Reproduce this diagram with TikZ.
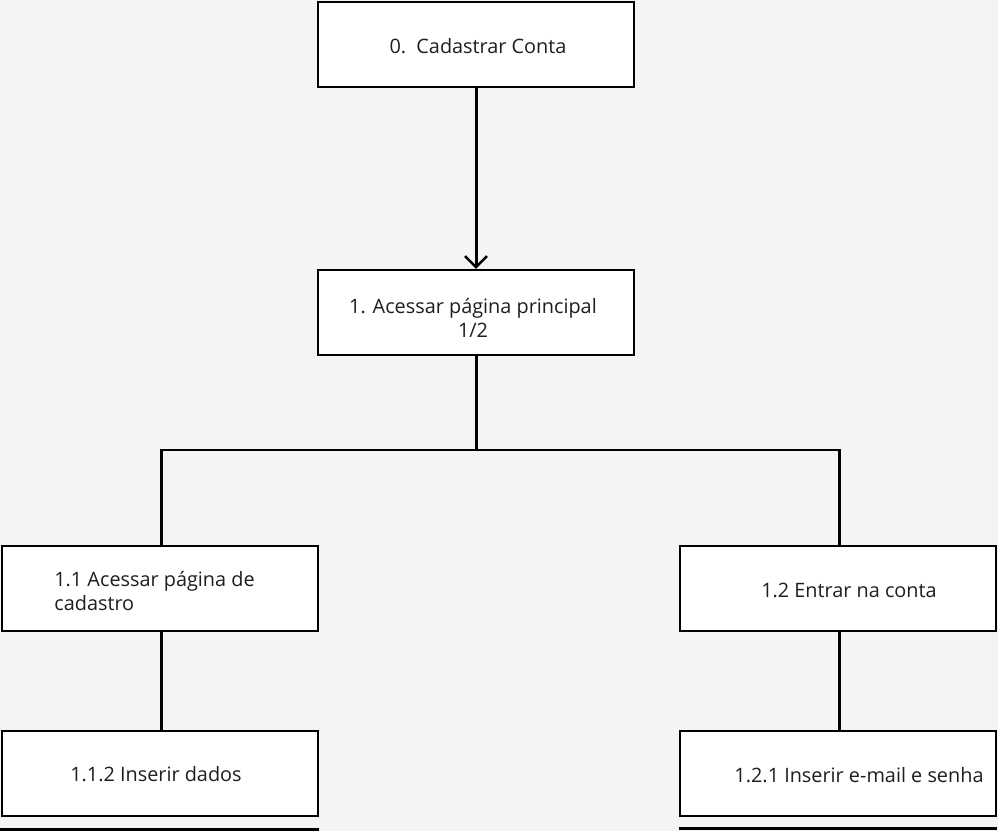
\documentclass[tikz,border=0pt]{standalone}
\usepackage{fontspec}
\setmainfont{Open Sans}
\usetikzlibrary{arrows.meta}
\definecolor{fundo}{HTML}{F4F4F4}
\definecolor{texto}{HTML}{1E1E1E}
\begin{document}
\begin{tikzpicture}[
  x=0.02cm, y=-0.02cm,
  every node/.style={font=\fontsize{11.3}{13.6}\selectfont, text=texto},
  caixa/.style={rectangle, draw=black, line width=0.045cm, fill=white, minimum width=6.32cm, minimum height=1.70cm, inner sep=0pt},
  rotulo/.style={align=center, inner sep=0pt},
  ligacao/.style={draw=black, line width=0.06cm},
  seta/.style={ligacao, -{Straight Barb[length=0.22cm, width=0.44cm, line width=0.05cm]}}
]
\fill[fundo] (0,0) rectangle (998,831);
\useasboundingbox (0,0) rectangle (998,831);
% Caixas
\node[caixa] (b0) at (476,44.5) {};
\node[caixa] (b1) at (476,312.5) {};
\node[caixa] (b11) at (160,588.5) {};
\node[caixa] (b12) at (838,588.5) {};
\node[caixa] (b112) at (160,773.5) {};
\node[caixa] (b121) at (838,773.5) {};
% Textos
\node[rotulo] (t0) at (478,46) {0.\ \ Cadastrar Conta};
\node[rotulo] (t1) at (473,318) {1. Acessar página principal\\1/2};
\node[rotulo, align=left, anchor=west] (t11) at (54,591) {1.1 Acessar página de\\cadastro};
\node[rotulo] (t12) at (849,590) {1.2 Entrar na conta};
\node[rotulo] (t112) at (156,774) {1.1.2 Inserir dados};
\node[rotulo] (t121) at (859,775) {1.2.1 Inserir e-mail e senha};
% Ligacoes
\coordinate (divisao) at (476,450);
\draw[seta] (b0.south) -- (b1.north);
\draw[ligacao] (b1.south) -- (divisao);
\draw[ligacao] (divisao) -| ([xshift=1]b11.north);
\draw[ligacao] (divisao) -| ([xshift=1]b12.north);
\draw[ligacao] ([xshift=1]b11.south) -- ([xshift=1]b112.north);
\draw[ligacao] ([xshift=1]b12.south) -- ([xshift=1]b121.north);
% Caixas cortadas na margem inferior
\coordinate (c1a) at (0,829);
\coordinate (c1b) at (319,829);
\coordinate (c2a) at (679,828);
\coordinate (c2b) at (997,828);
\draw[ligacao] (c1a) -- (c1b);
\draw[ligacao] (c2a) -- (c2b);
\end{tikzpicture}
\end{document}
